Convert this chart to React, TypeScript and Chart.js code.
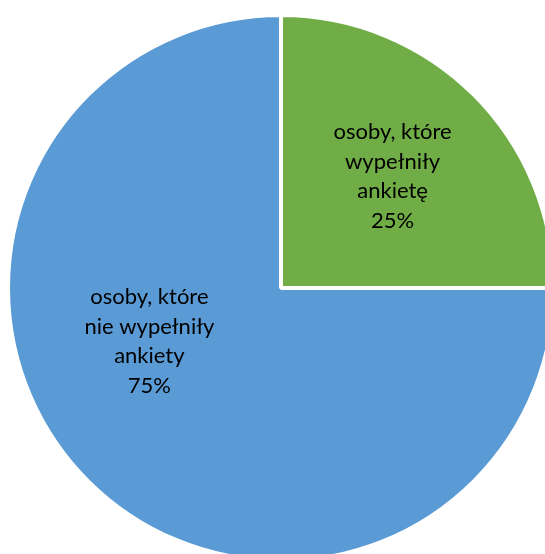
import React, { useEffect, useRef } from "react";
import { Chart, registerables } from "chart.js";

Chart.register(...registerables);

const categories: string[][] = [
  ["osoby, które", "wypełniły", "ankietę"],
  ["osoby, które", "nie wypełniły", "ankiety"],
];
const shares: number[] = [25, 75];
const percentLabels: string[] = ["25%", "75%"];
const colors: string[] = ["#70AD47", "#5B9BD5"];

// label anchor: angle (deg, screen coords) and fraction of radius
const labelAnchors = [
  { angle: -45, r: 0.578 },
  { angle: 158, r: 0.52 },
];

const FONT = "22px Lato";
const LINE_H = 29.5;

const labelPlugin = {
  id: "sliceLabels",
  afterDatasetsDraw(chart: any) {
    const ctx = chart.ctx;
    const meta = chart.getDatasetMeta(0);
    ctx.save();
    ctx.font = FONT;
    ctx.fillStyle = "#000000";
    ctx.textAlign = "center";
    ctx.textBaseline = "middle";
    meta.data.forEach((arc: any, i: number) => {
      const a = (labelAnchors[i].angle * Math.PI) / 180;
      const rr = arc.outerRadius * labelAnchors[i].r;
      const cx = arc.x + Math.cos(a) * rr;
      const cy = arc.y + Math.sin(a) * rr;
      const lines = [...categories[i], percentLabels[i]];
      const top = cy - ((lines.length - 1) * LINE_H) / 2;
      lines.forEach((ln, k) => ctx.fillText(ln, cx, top + k * LINE_H));
    });
    ctx.restore();
  },
};

export default function App() {
  const ref = useRef<HTMLCanvasElement>(null);
  useEffect(() => {
    if (!ref.current) return;
    const chart = new Chart(ref.current, {
      type: "pie",
      data: {
        labels: categories.map((c) => c.join(" ")),
        datasets: [
          {
            data: shares,
            backgroundColor: colors,
            borderColor: "#ffffff",
            borderWidth: 4,
          },
        ],
      },
      options: {
        responsive: false,
        animation: false,
        layout: { padding: 0 },
        plugins: {
          legend: { display: false },
          tooltip: { enabled: false },
        },
      },
      plugins: [labelPlugin],
    });
    return () => chart.destroy();
  }, []);
  return (
    <div
      style={{
        position: "fixed",
        left: 0,
        top: 0,
        width: 545,
        height: 554,
        overflow: "hidden",
        background: "#ffffff",
      }}
    >
      <canvas
        ref={ref}
        width={550}
        height={550}
        style={{ position: "absolute", left: 6, top: 13, width: 550, height: 550 }}
      />
    </div>
  );
}
